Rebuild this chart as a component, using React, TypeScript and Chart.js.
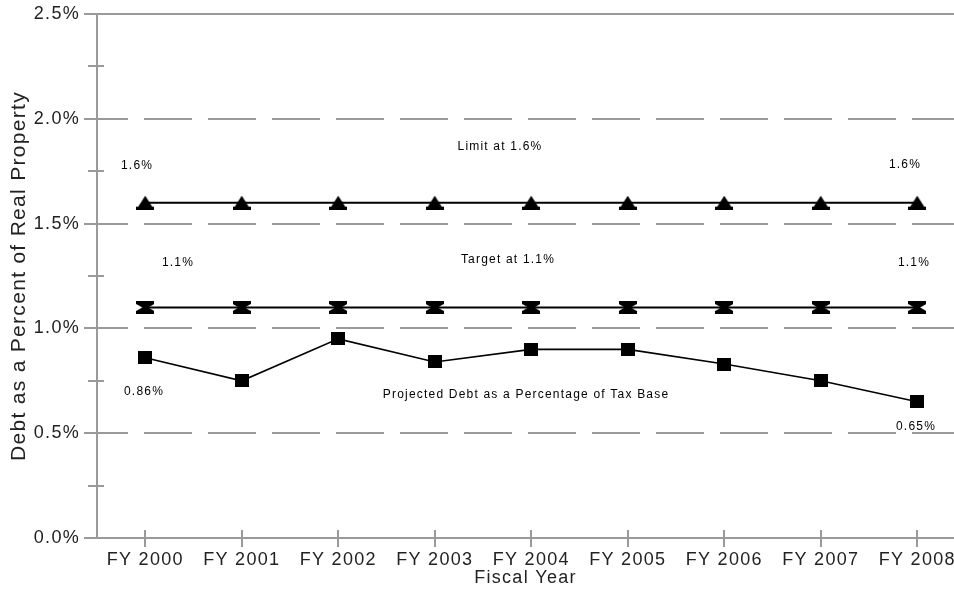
import React, { useEffect, useRef } from 'react';
import { Chart, registerables } from 'chart.js';

Chart.register(...registerables);

// ---------- data ----------
const categories = ['FY 2000', 'FY 2001', 'FY 2002', 'FY 2003', 'FY 2004', 'FY 2005', 'FY 2006', 'FY 2007', 'FY 2008'];
const limitValues = [1.6, 1.6, 1.6, 1.6, 1.6, 1.6, 1.6, 1.6, 1.6];
const targetValues = [1.1, 1.1, 1.1, 1.1, 1.1, 1.1, 1.1, 1.1, 1.1];
const projectedValues = [0.86, 0.75, 0.95, 0.84, 0.9, 0.9, 0.83, 0.75, 0.65];
const yTickValues = [0, 0.5, 1.0, 1.5, 2.0, 2.5];
const yMinorTickValues = [0.25, 0.75, 1.25, 1.75, 2.25];
const xTitle = 'Fiscal Year';
const yTitle = 'Debt as a Percent of Real Property';

// text labels placed in data coordinates (x = category index, y = percent)
const annotationTexts = ['1.6%', 'Limit at 1.6%', '1.6%', '1.1%', 'Target at 1.1%', '1.1%', '0.86%', 'Projected Debt as a Percentage of Tax Base', '0.65%'];
const annotationX = [-0.085, 3.676, 7.873, 0.339, 3.759, 7.966, -0.013, 3.946, 7.987];
const annotationY = [1.775, 1.865, 1.78, 1.312, 1.326, 1.312, 0.697, 0.682, 0.53];

const FONT = '"Liberation Sans", Arial, sans-serif';
const GRID = '#9a9a9a';

function makeMarker(w: number, h: number, pts: number[][]): HTMLCanvasElement {
  const c = document.createElement('canvas');
  c.width = w;
  c.height = h;
  const g = c.getContext('2d')!;
  g.fillStyle = '#000';
  g.beginPath();
  pts.forEach((p, i) => (i === 0 ? g.moveTo(p[0], p[1]) : g.lineTo(p[0], p[1])));
  g.closePath();
  g.fill();
  return c;
}

const gridPlugin = {
  id: 'customGrid',
  beforeDatasetsDraw(chart: any) {
    const { ctx, chartArea, scales } = chart;
    const x = scales.x;
    const y = scales.y;
    const L = chartArea.left;
    const R = chartArea.right;
    const T = chartArea.top;
    const B = chartArea.bottom;
    ctx.save();
    ctx.strokeStyle = GRID;
    ctx.lineWidth = 2;
    ctx.lineCap = 'butt';
    yTickValues.forEach((v) => {
      const py = Math.round(y.getPixelForValue(v));
      ctx.beginPath();
      if (v === yTickValues[0] || v === yTickValues[yTickValues.length - 1]) {
        ctx.setLineDash([]);
      } else {
        ctx.setLineDash([48, 16]);
        ctx.lineDashOffset = 4;
      }
      ctx.moveTo(L - 13, py);
      ctx.lineTo(R, py);
      ctx.stroke();
    });
    ctx.setLineDash([]);
    // minor ticks
    yMinorTickValues.forEach((v) => {
      const py = Math.round(y.getPixelForValue(v));
      ctx.beginPath();
      ctx.moveTo(L - 9, py);
      ctx.lineTo(L + 7, py);
      ctx.stroke();
    });
    // left axis
    ctx.beginPath();
    ctx.moveTo(L, T);
    ctx.lineTo(L, B);
    ctx.stroke();
    // x ticks
    categories.forEach((_, i) => {
      const px = Math.round(x.getPixelForValue(i));
      ctx.beginPath();
      ctx.moveTo(px, B - 8);
      ctx.lineTo(px, B + 9);
      ctx.stroke();
    });
    ctx.restore();
  },
  afterDatasetsDraw(chart: any) {
    const { ctx, scales } = chart;
    ctx.save();
    ctx.font = '12px ' + FONT;
    (ctx as any).letterSpacing = '1.2px';
    ctx.fillStyle = '#000';
    ctx.textAlign = 'center';
    ctx.textBaseline = 'middle';
    annotationTexts.forEach((t, i) => {
      ctx.fillText(t, scales.x.getPixelForValue(annotationX[i]), scales.y.getPixelForValue(annotationY[i]));
    });
    ctx.restore();
  },
  beforeDraw(chart: any) {
    (chart.ctx as any).letterSpacing = '1.3px';
  },
  afterDraw(chart: any) {
    (chart.ctx as any).letterSpacing = '0px';
  },
};

export default function App() {
  const ref = useRef<HTMLCanvasElement>(null);
  useEffect(() => {
    if (!ref.current) return;
    const triangle = makeMarker(18, 14, [
      [9, 0], [16, 11], [18, 11], [18, 14], [0, 14], [0, 11], [2, 11],
    ]);
    const hourglass = makeMarker(18, 13, [
      [0, 0], [18, 0], [18, 3], [12, 6.5], [18, 10], [18, 13], [0, 13], [0, 10], [6, 6.5], [0, 3],
    ]);
    const square = makeMarker(14, 13, [
      [0, 0], [14, 0], [14, 13], [0, 13],
    ]);
    const toPts = (arr: number[]) => arr.map((v, i) => ({ x: i, y: v }));
    const chart = new Chart(ref.current, {
      type: 'line',
      data: {
        datasets: [
          {
            label: 'Limit at 1.6%',
            data: toPts(limitValues),
            borderColor: '#000',
            backgroundColor: '#000',
            borderWidth: 2,
            pointStyle: triangle as any,
            pointRadius: 9,
          },
          {
            label: 'Target at 1.1%',
            data: toPts(targetValues),
            borderColor: '#000',
            backgroundColor: '#000',
            borderWidth: 2,
            pointStyle: hourglass as any,
            pointRadius: 9,
          },
          {
            label: 'Projected Debt as a Percentage of Tax Base',
            data: toPts(projectedValues),
            borderColor: '#000',
            backgroundColor: '#000',
            borderWidth: 1.6,
            pointStyle: square as any,
            pointRadius: 8,
          },
        ],
      },
      options: {
        responsive: false,
        maintainAspectRatio: false,
        animation: false,
        layout: { autoPadding: false, padding: { top: 14, left: 0, right: 0, bottom: 0 } },
        plugins: { legend: { display: false }, tooltip: { enabled: false } },
        scales: {
          x: {
            type: 'linear',
            min: -0.5,
            max: -0.5 + 857 / 96.5,
            grid: { display: false, drawTicks: false },
            border: { display: false },
            afterBuildTicks: (s: any) => {
              s.ticks = categories.map((_, i) => ({ value: i }));
            },
            afterFit: (s: any) => {
              s.height = 55;
              s.paddingLeft = 0;
              s.paddingRight = 0;
            },
            ticks: {
              autoSkip: false,
              maxRotation: 0,
              minRotation: 0,
              padding: 11,
              color: '#222',
              font: { family: FONT, size: 18 },
              callback: (v: any) => categories[Math.round(Number(v))] ?? '',
            },
            title: {
              display: true,
              text: xTitle,
              color: '#222',
              font: { family: FONT, size: 18 },
              padding: { top: 0, bottom: 4 },
            },
          },
          y: {
            type: 'linear',
            min: 0,
            max: 2.5,
            grid: { display: false, drawTicks: false },
            border: { display: false },
            afterBuildTicks: (s: any) => {
              s.ticks = yTickValues.map((v) => ({ value: v }));
            },
            afterFit: (s: any) => {
              s.width = 97;
              s.paddingTop = 0;
              s.paddingBottom = 0;
            },
            ticks: {
              padding: 17,
              color: '#222',
              font: { family: FONT, size: 18 },
              callback: (v: any) => Number(v).toFixed(1) + '%',
            },
            title: {
              display: true,
              text: yTitle,
              color: '#222',
              font: { family: FONT, size: 21 },
              padding: { top: 7, bottom: 0 },
            },
          },
        },
      },
      plugins: [gridPlugin],
    });
    return () => chart.destroy();
  }, []);
  return (
    <div style={{ position: 'fixed', left: 0, top: 0, width: 954, height: 593, background: '#fff' }}>
      <canvas ref={ref} width={954} height={593} style={{ display: 'block' }} />
    </div>
  );
}
